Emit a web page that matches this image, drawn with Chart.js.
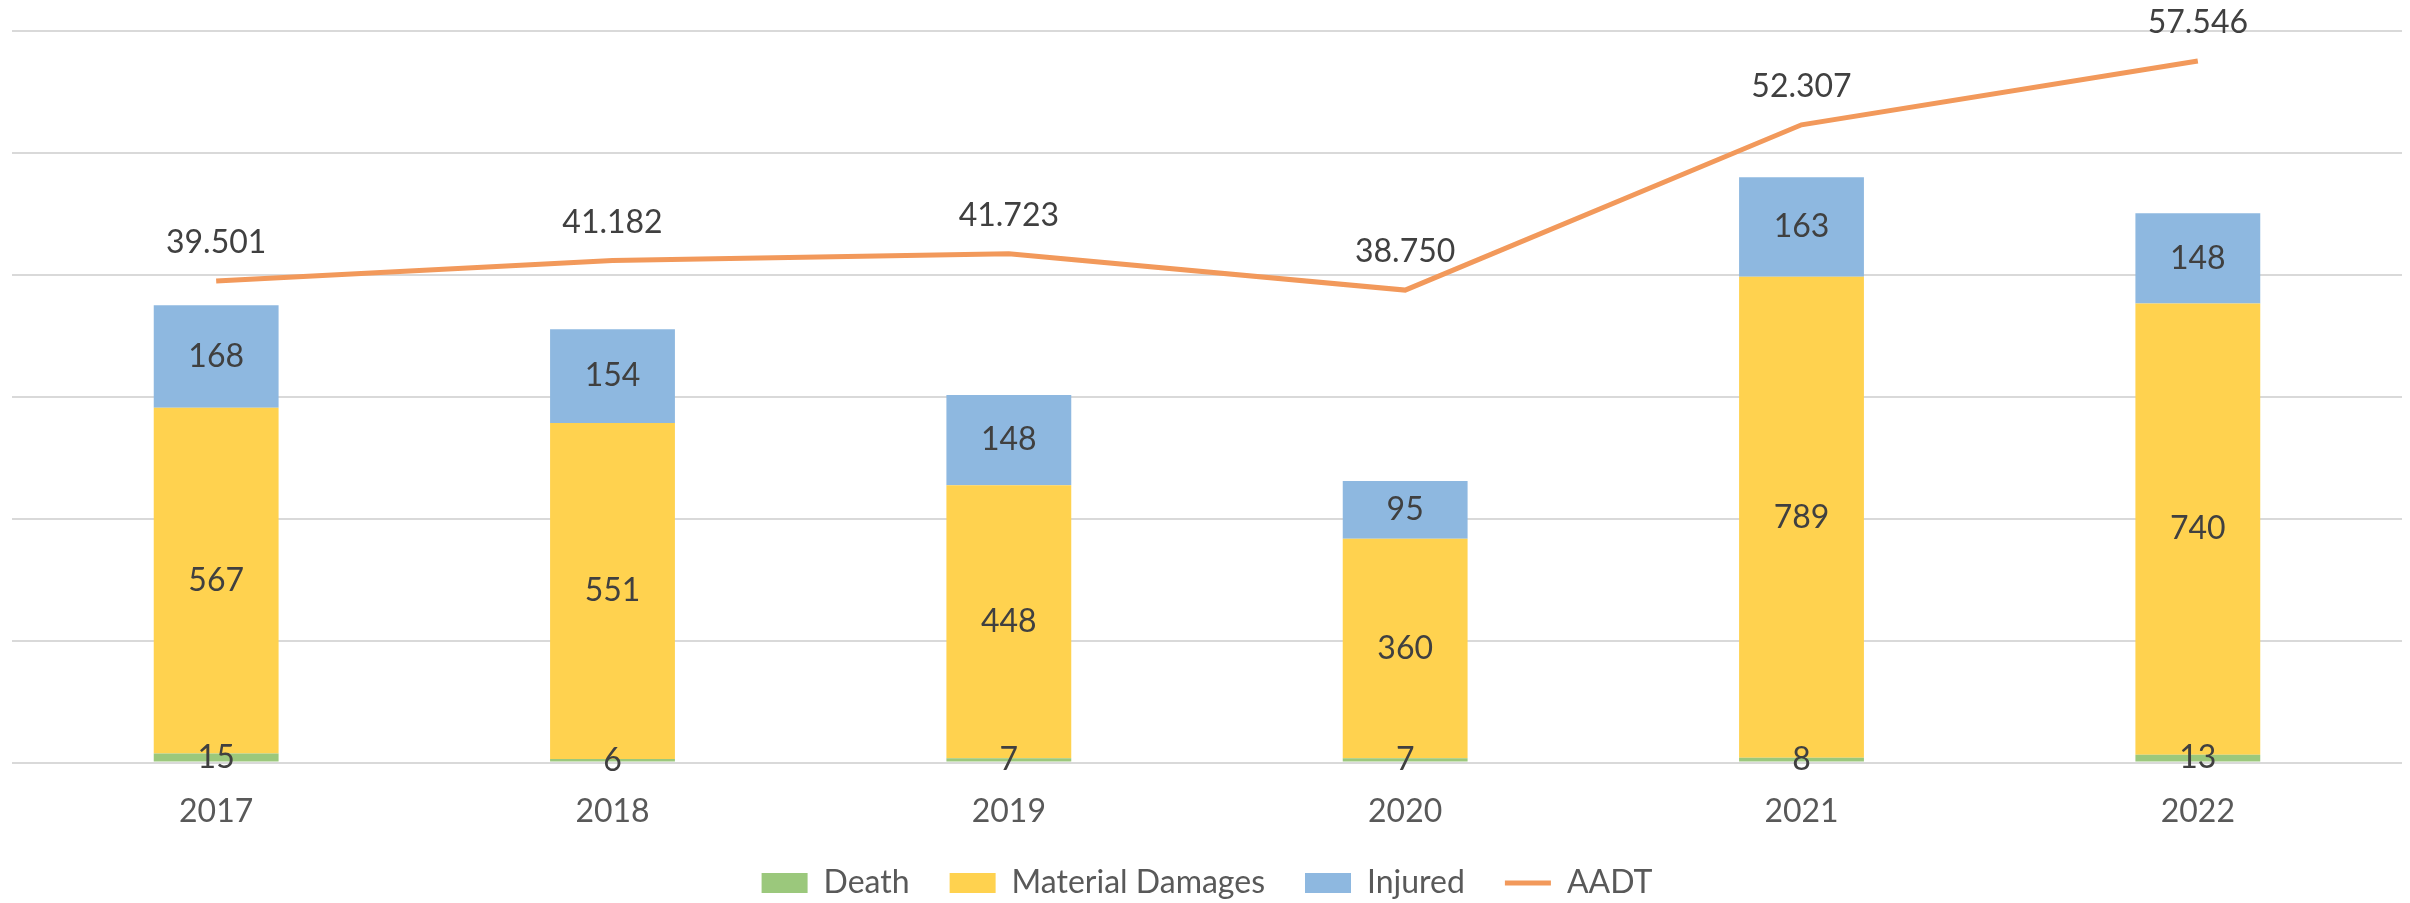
<!DOCTYPE html>
<html>
<head>
<meta charset="utf-8">
<script src="https://cdn.jsdelivr.net/npm/chart.js@4.4.1/dist/chart.umd.min.js"></script>
<style>
  html, body { margin: 0; padding: 0; background: #fff; }
  #wrap { width: 2410px; height: 903px; }
</style>
</head>
<body>
<div id="wrap"><canvas id="myChart"></canvas></div>
<script>
const years = ['2017', '2018', '2019', '2020', '2021', '2022'];
const death = [15, 6, 7, 7, 8, 13];
const materialDamages = [567, 551, 448, 360, 789, 740];
const injured = [168, 154, 148, 95, 163, 148];
const aadt = [39501, 41182, 41723, 38750, 52307, 57546];

const FONT = 'Lato, "Open Sans", sans-serif';

// thousands with a dot, like the source sheet
const dotted = (v) => String(v).replace(/\B(?=(\d{3})+(?!\d))/g, '.');

const valueLabels = {
  id: 'valueLabels',
  afterDatasetsDraw(chart) {
    const { ctx } = chart;
    ctx.save();
    ctx.font = '32px ' + FONT;
    ctx.fillStyle = '#404040';
    ctx.textAlign = 'center';
    ctx.textBaseline = 'middle';
    chart.data.datasets.forEach((ds, i) => {
      const meta = chart.getDatasetMeta(i);
      meta.data.forEach((el, j) => {
        const v = ds.data[j];
        if (ds.type === 'line') {
          ctx.fillText(dotted(v), el.x, el.y - 38);
        } else {
          const { x, y, base } = el.getProps(['x', 'y', 'base'], true);
          ctx.fillText(String(v), x, (y + base) / 2);
        }
      });
    });
    ctx.restore();
  }
};

new Chart(document.getElementById('myChart'), {
  data: {
    labels: years,
    datasets: [
      {
        type: 'bar',
        label: 'Death',
        data: death,
        backgroundColor: '#9BC87C',
        stack: 's',
        order: 1,
      },
      {
        type: 'bar',
        label: 'Material Damages',
        data: materialDamages,
        backgroundColor: '#FFD24F',
        stack: 's',
        order: 1,
      },
      {
        type: 'bar',
        label: 'Injured',
        data: injured,
        backgroundColor: '#8EB8E0',
        stack: 's',
        order: 1,
      },
      {
        type: 'line',
        label: 'AADT',
        data: aadt,
        yAxisID: 'y1',
        borderColor: '#F2995B',
        backgroundColor: '#F2995B',
        borderWidth: 5,
        pointRadius: 0,
        tension: 0,
        order: 0,
      },
    ],
  },
  options: {
    responsive: true,
    maintainAspectRatio: false,
    animation: false,
    datasets: {
      bar: { barPercentage: 1, categoryPercentage: 0.315 },
    },
    layout: { padding: { top: 31, left: 12, right: 8, bottom: -6 } },
    scales: {
      x: {
        stacked: true,
        grid: { display: false, tickLength: 0 },
        border: { display: false },
        ticks: {
          color: '#595959',
          padding: 30,
          font: { family: FONT, size: 32 },
        },
        afterFit: (scale) => { scale.height -= 6; },
      },
      y: {
        stacked: true,
        min: 0,
        max: 1200,
        ticks: { display: false, stepSize: 200 },
        grid: { color: '#D9D9D9', lineWidth: 2, tickLength: 6 },
        border: { display: false },
      },
      y1: {
        position: 'right',
        min: 0,
        max: 60000,
        ticks: { display: false, stepSize: 10000 },
        grid: { drawOnChartArea: false, color: '#D9D9D9', lineWidth: 2, tickLength: 6 },
        border: { display: false },
      },
    },
    plugins: {
      tooltip: { enabled: false },
      legend: {
        position: 'bottom',
        labels: {
          color: '#595959',
          font: { family: FONT, size: 32 },
          usePointStyle: true,
          pointStyleWidth: 46,
          boxHeight: 20,
          padding: 12,
          sort: (a, b) => a.datasetIndex - b.datasetIndex,
          generateLabels: (chart) => {
            const items = Chart.defaults.plugins.legend.labels.generateLabels(chart);
            const last = chart.data.datasets.length - 1;
            items.forEach((it) => {
              const ds = chart.data.datasets[it.datasetIndex];
              // wider gap between legend entries without growing the legend height
              if (it.datasetIndex !== last) it.text += '\u2003\u2009';
              if (ds.type === 'line') {
                it.pointStyle = 'line';
                it.lineWidth = 5;
                it.strokeStyle = ds.borderColor;
              } else {
                it.pointStyle = 'rect';
                it.lineWidth = 0;
              }
            });
            return items;
          },
        },
      },
    },
  },
  plugins: [valueLabels],
});
</script>
</body>
</html>
